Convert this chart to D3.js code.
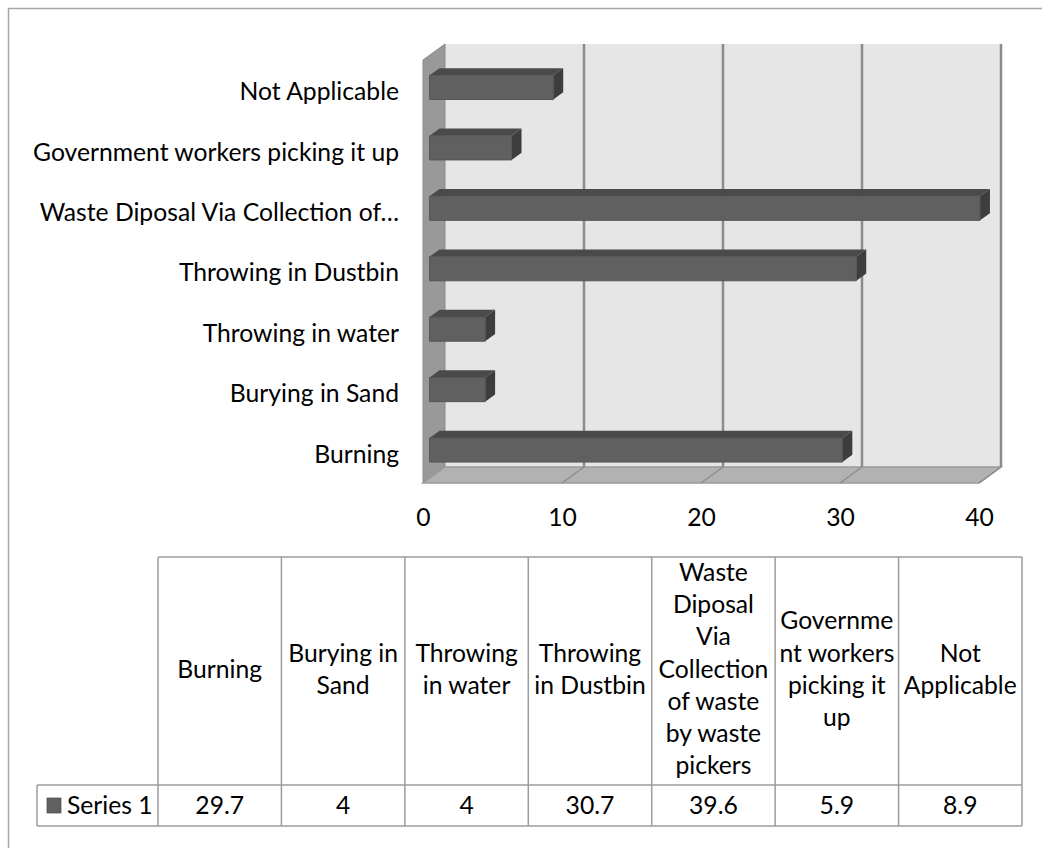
<!DOCTYPE html>
<html>
<head>
<meta charset="utf-8">
<script src="https://cdn.jsdelivr.net/npm/d3@7"></script>
<style>
  html, body { margin: 0; padding: 0; background: #fff; }
  svg { display: block; }
  text { font-family: Lato, "Open Sans", sans-serif; fill: #000; }
</style>
</head>
<body>
<svg id="chart" width="1042" height="850"></svg>
<script>
// Waste disposal methods (percent of respondents)
const categories = [
  "Burning",
  "Burying in Sand",
  "Throwing in water",
  "Throwing in Dustbin",
  "Waste Diposal Via Collection of waste by waste pickers",
  "Government workers picking it up",
  "Not Applicable"
];
const series1 = [29.7, 4, 4, 30.7, 39.6, 5.9, 8.9];
const seriesName = "Series 1";
const xTicks = [0, 10, 20, 30, 40];
// category labels as they appear on the vertical axis
const axisLabels = [
  "Burning",
  "Burying in Sand",
  "Throwing in water",
  "Throwing in Dustbin",
  "Waste Diposal Via Collection of\u2026",
  "Government workers picking it up",
  "Not Applicable"
];
// wrapped header text for the data table
const headerLines = [
  ["Burning"],
  ["Burying in", "Sand"],
  ["Throwing", "in water"],
  ["Throwing", "in Dustbin"],
  ["Waste", "Diposal", "Via", "Collection", "of waste", "by waste", "pickers"],
  ["Governme", "nt workers", "picking it", "up"],
  ["Not", "Applicable"]
];
const valueLabels = ["29.7", "4", "4", "30.7", "39.6", "5.9", "8.9"];

const FONT = 24.7;
const svg = d3.select("#chart");

// outer chart-area frame (top and left edges visible)
svg.append("path")
  .attr("d", "M8.5,848 L8.5,8.5 L1042,8.5")
  .attr("fill", "none").attr("stroke", "#a6a6a6").attr("stroke-width", 1.5);

// ---- 3D plot area -------------------------------------------------------
const DX = 22, DY = 16;               // depth offset of the back wall
const xFront = d3.scaleLinear().domain([0, 40]).range([423, 979]);
const yTop = 60, yBottom = 483;
const yBand = d3.scaleBand()
  .domain(categories.slice().reverse())
  .range([yTop + 2, yBottom + 2])
  .paddingInner(0.6)
  .paddingOuter(0.3);

// project (value, front-plane y, depth 0..1) to screen
const P = (v, y, z) => [xFront(v) + z * DX, y - z * DY];
const poly = pts => "M" + pts.map(p => p.join(",")).join("L") + "Z";

const plot = svg.append("g");

// back wall
plot.append("path")
  .attr("d", poly([P(0, yTop, 1), P(40, yTop, 1), P(40, yBottom, 1), P(0, yBottom, 1)]))
  .attr("fill", "#e6e6e6");

// side wall
plot.append("path")
  .attr("d", poly([P(0, yTop, 0), P(0, yTop, 1), P(0, yBottom, 1), P(0, yBottom, 0)]))
  .attr("fill", "#999999").attr("stroke", "#8a8a8a").attr("stroke-width", 1);

// floor
plot.append("path")
  .attr("d", poly([P(0, yBottom, 0), P(0, yBottom, 1), P(40, yBottom, 1), P(40, yBottom, 0)]))
  .attr("fill", "#b2b2b2").attr("stroke", "#9a9a9a").attr("stroke-width", 1.5);

// gridlines on back wall and floor
plot.selectAll(".grid-wall").data(xTicks.filter(d => d > 0)).join("line")
  .attr("class", "grid-wall")
  .attr("x1", d => P(d, yTop, 1)[0]).attr("y1", d => P(d, yTop, 1)[1])
  .attr("x2", d => P(d, yBottom, 1)[0]).attr("y2", d => P(d, yBottom, 1)[1])
  .attr("stroke", "#8c8c8c").attr("stroke-width", 2.5);
plot.selectAll(".grid-floor").data(xTicks.filter(d => d > 0)).join("line")
  .attr("class", "grid-floor")
  .attr("x1", d => P(d, yBottom, 1)[0]).attr("y1", d => P(d, yBottom, 1)[1])
  .attr("x2", d => P(d, yBottom, 0)[0]).attr("y2", d => P(d, yBottom, 0)[1])
  .attr("stroke", "#8c8c8c").attr("stroke-width", 1.5);

// bars (front face, top face, end face)
const Z0 = 0.3, Z1 = 0.75;
const bars = plot.selectAll(".bar")
  .data(categories.map((c, i) => ({ c, v: series1[i] })))
  .join("g").attr("class", "bar");
bars.append("path") // top
  .attr("d", d => {
    const y = yBand(d.c);
    return poly([P(0, y, Z0), P(0, y, Z1), P(d.v, y, Z1), P(d.v, y, Z0)]);
  })
  .attr("fill", "#4a4a4a");
bars.append("path") // end
  .attr("d", d => {
    const y0 = yBand(d.c), y1 = y0 + yBand.bandwidth();
    return poly([P(d.v, y0, Z0), P(d.v, y0, Z1), P(d.v, y1, Z1), P(d.v, y1, Z0)]);
  })
  .attr("fill", "#3d3d3d");
bars.append("path") // front
  .attr("d", d => {
    const y0 = yBand(d.c), y1 = y0 + yBand.bandwidth();
    return poly([P(0, y0, Z0), P(d.v, y0, Z0), P(d.v, y1, Z0), P(0, y1, Z0)]);
  })
  .attr("fill", "#606060").attr("stroke", "#555555").attr("stroke-width", 1);

// category axis
const yAxis = svg.append("g")
  .attr("transform", "translate(399,0)")
  .call(d3.axisLeft(yBand).tickSize(0).tickPadding(0)
    .tickFormat(c => axisLabels[categories.indexOf(c)]));
yAxis.select(".domain").remove();
yAxis.selectAll("text").style("font-size", FONT + "px").style("font-family", null);

// value axis
const xAxis = svg.append("g")
  .attr("transform", `translate(0,${yBottom})`)
  .call(d3.axisBottom(xFront).tickValues(xTicks).tickSize(0).tickPadding(25));
xAxis.select(".domain").remove();
xAxis.selectAll("text").style("font-size", FONT + "px").style("font-family", null);

// ---- data table -----------------------------------------------------------
const colX = d3.scaleBand().domain(categories).range([158, 1022]);
const tTop = 557, rowTop = 785, rowBottom = 826, legendLeft = 37;
const LINE = 32.2;
const tbl = svg.append("g");
const tStroke = "#9c9c9c";

tbl.append("line").attr("x1", 158).attr("x2", 1022).attr("y1", tTop).attr("y2", tTop)
  .attr("stroke", tStroke).attr("stroke-width", 1.5);
tbl.append("line").attr("x1", legendLeft).attr("x2", 1022).attr("y1", rowTop).attr("y2", rowTop)
  .attr("stroke", tStroke).attr("stroke-width", 1.5);
tbl.append("line").attr("x1", legendLeft).attr("x2", 1022).attr("y1", rowBottom).attr("y2", rowBottom)
  .attr("stroke", tStroke).attr("stroke-width", 1.5);
tbl.append("line").attr("x1", legendLeft).attr("x2", legendLeft).attr("y1", rowTop).attr("y2", rowBottom)
  .attr("stroke", tStroke).attr("stroke-width", 1.5);
const edges = categories.map(c => colX(c)).concat([colX.range()[1]]);
tbl.selectAll(".vline").data(edges).join("line").attr("class", "vline")
  .attr("x1", d => d).attr("x2", d => d).attr("y1", tTop).attr("y2", rowBottom)
  .attr("stroke", tStroke).attr("stroke-width", 1.5);

// header text
const hdrMid = (tTop + rowTop) / 2 - 2;
tbl.selectAll(".hdr").data(categories).join("text").attr("class", "hdr")
  .attr("text-anchor", "middle")
  .style("font-size", FONT + "px")
  .each(function (c, i) {
    const lines = headerLines[i];
    const t = d3.select(this);
    lines.forEach((ln, k) => {
      t.append("tspan")
        .attr("x", colX(c) + colX.bandwidth() / 2)
        .attr("y", hdrMid + (k - (lines.length - 1) / 2) * LINE)
        .attr("dy", "0.35em")
        .text(ln);
    });
  });

// values row
const rowMid = (rowTop + rowBottom) / 2;
tbl.selectAll(".val").data(categories).join("text").attr("class", "val")
  .attr("x", c => colX(c) + colX.bandwidth() / 2)
  .attr("y", rowMid).attr("dy", "0.35em")
  .attr("text-anchor", "middle")
  .style("font-size", FONT + "px")
  .text((c, i) => valueLabels[i]);

// legend key + series name
tbl.append("rect").attr("x", 47).attr("y", 798).attr("width", 14).attr("height", 15)
  .attr("fill", "#606060").attr("stroke", "#555555").attr("stroke-width", 0.8);
tbl.append("text").attr("x", 67).attr("y", rowMid).attr("dy", "0.35em")
  .style("font-size", FONT + "px").text(seriesName);
</script>
</body>
</html>
